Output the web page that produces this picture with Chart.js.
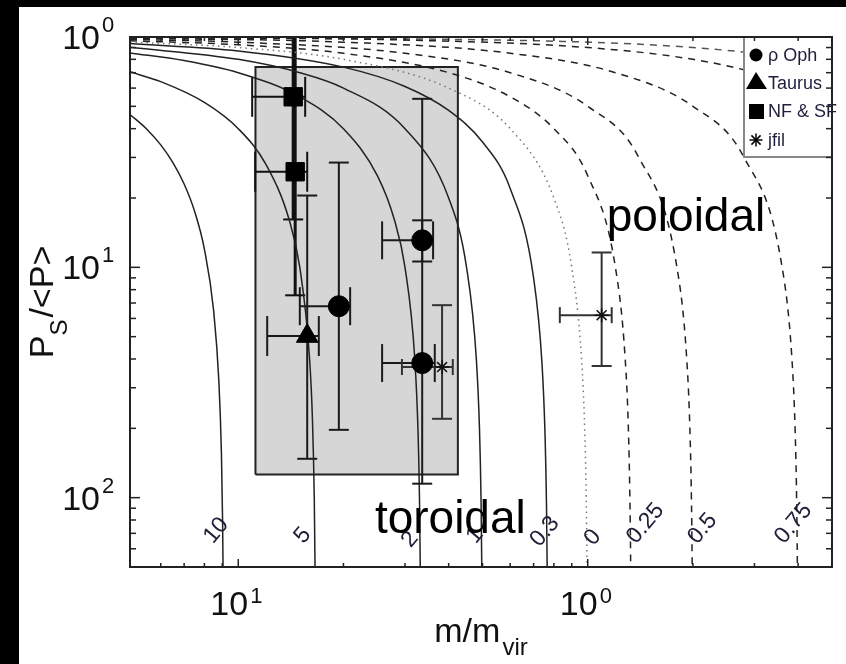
<!DOCTYPE html>
<html>
<head>
<meta charset="utf-8">
<script src="https://cdn.jsdelivr.net/npm/chart.js@4.4.1/dist/chart.umd.min.js"></script>
<style>
  html, body { margin:0; padding:0; background:#000; }
  #wrap { position:absolute; left:19px; top:7px; width:827px; height:657px; background:#fff; }
  canvas { display:block; }
</style>
</head>
<body>
<div id="wrap"><canvas id="c" width="827" height="657"></canvas></div>
<script>
const FONT = '"Liberation Sans", Arial, sans-serif'

// model curves, [m/mvir, Ps/<P>]
const tor10 = [[0.049,0.461],[0.055,0.395],[0.06,0.34],[0.065,0.285],[0.07,0.23],[0.075,0.175],[0.08,0.12],[0.085,0.065],[0.088,0.032],[0.0895,0.0155],[0.0902,0.0078],[0.0905,0.0045]]
const tor5 = [[0.049,0.706],[0.06,0.64],[0.08,0.52],[0.1,0.40],[0.12,0.28],[0.14,0.16],[0.15,0.10],[0.16,0.04],[0.163,0.022],[0.165,0.01],[0.1658,0.0052],[0.1662,0.0028]]
const tor2 = [[0.049,0.853],[0.07,0.79],[0.1,0.70],[0.15,0.55],[0.2,0.40],[0.25,0.25],[0.28,0.16],[0.3,0.10],[0.32,0.04],[0.327,0.019],[0.33,0.01],[0.3317,0.005],[0.3325,0.0025]]
const tor1 = [[0.049,0.902],[0.1,0.80],[0.15,0.70],[0.2,0.60],[0.3,0.40],[0.4,0.20],[0.45,0.10],[0.48,0.04],[0.49,0.02],[0.495,0.01],[0.4975,0.005],[0.499,0.002]]
const tor03 = [[0.049,0.936],[0.1,0.87],[0.2,0.74],[0.3,0.61],[0.4,0.48],[0.5,0.35],[0.6,0.22],[0.7,0.09],[0.74,0.038],[0.755,0.0185],[0.762,0.0094],[0.7655,0.0049],[0.768,0.0016]]
const neutral0 = [[0.049,0.951],[0.1,0.90],[0.2,0.80],[0.4,0.60],[0.6,0.40],[0.8,0.20],[0.9,0.10],[0.96,0.04],[0.98,0.02],[0.99,0.01],[0.995,0.005],[0.998,0.002]]
const pol025 = [[0.049,0.963],[0.1,0.925],[0.2,0.85],[0.4,0.70],[0.6,0.55],[0.8,0.40],[1.0,0.25],[1.2,0.10],[1.28,0.04],[1.307,0.02],[1.32,0.01],[1.327,0.005],[1.331,0.002]]
const pol05 = [[0.049,0.976],[0.1,0.95],[0.3,0.85],[0.6,0.70],[1.0,0.50],[1.4,0.30],[1.8,0.10],[1.92,0.04],[1.96,0.02],[1.98,0.01],[1.99,0.005],[1.996,0.002]]
const pol075 = [[0.049,0.988],[0.2,0.95],[0.6,0.85],[1.2,0.70],[2.0,0.50],[2.8,0.30],[3.6,0.10],[3.84,0.04],[3.92,0.02],[3.96,0.01],[3.98,0.005],[3.992,0.002]]
const pol09 = [[0.049,0.995],[0.3,0.97],[1,0.90],[2,0.80],[3,0.70],[4,0.60],[5,0.50]]
const pol095 = [[0.049,0.9975],[1,0.95],[2,0.90],[3,0.85],[4,0.80],[5,0.75]]

const curveLabelText = ['10','5','2','1','0.3','0','0.25','0.5','0.75']
const curveLabelX = [0.0865,0.153,0.31,0.4755,0.754,1.033,1.464,2.131,3.878]
const curveLabelY = [0.0072,0.00685,0.00658,0.00685,0.00713,0.00671,0.00772,0.00734,0.00772]

// observed region
const boxX = [0.112,0.112,0.425,0.425,0.112]
const boxY = [0.0126,0.74,0.74,0.0126,0.0126]

// data points with error bars
const ophX = [0.336,0.336,0.194]
const ophY = [0.131,0.0384,0.0678]
const ophXLo = [0.258,0.258,0.150]
const ophXHi = [0.361,0.365,0.209]
const ophYLo = [0.106,0.0115,0.0197]
const ophYHi = [0.160,0.539,0.285]

const tauX = [0.1575]
const tauY = [0.0503]
const tauXLo = [0.121]
const tauXHi = [0.170]
const tauYLo = [0.01475]
const tauYHi = [0.205]

const nfsfX = [0.1436,0.1455]
const nfsfY = [0.550,0.260]
const nfsfXLo = [0.1096,0.1118]
const nfsfXHi = [0.1554,0.1575]
const nfsfYLo = [0.1614,0.0756]
const nfsfYHi = [2,2]

const jfilX = [0.383,1.096]
const jfilY = [0.0369,0.062]
const jfilXLo = [0.294,0.832]
const jfilXHi = [0.411,1.171]
const jfilYLo = [0.022,0.0373]
const jfilYHi = [0.0685,0.116]

const legendText = ['\u03c1 Oph','Taurus','NF & SF','jfil']
const regionText = ['toroidal','poloidal']
const regionX = [0.246,1.133]
const regionY = [0.00699,0.1432]

const xMajorTicks = [0.1,1]
const xTickExp = ['1','0']
const xMinorTicks = [0.06,0.07,0.08,0.09,0.2,0.3,0.4,0.5,0.6,0.7,0.8,0.9,2,3,4]
const yMajorTicks = [1,0.1,0.01]
const yTickExp = ['0','1','2']
const yMinorTicks = [0.006,0.007,0.008,0.009,0.02,0.03,0.04,0.05,0.06,0.07,0.08,0.09,0.2,0.3,0.4,0.5,0.6,0.7,0.8,0.9]

const pts = arr => arr.map(p => ({ x: p[0], y: p[1] }))
const zip = (xs, ys) => xs.map((v, i) => ({ x: v, y: ys[i] }))

const errGroups = [
  { x: ophX, y: ophY, xLo: ophXLo, xHi: ophXHi, yLo: ophYLo, yHi: ophYHi, color:'#1a1a1a', vw:2, cap:19 },
  { x: tauX, y: tauY, xLo: tauXLo, xHi: tauXHi, yLo: tauYLo, yHi: tauYHi, color:'#1a1a1a', vw:2, cap:20 },
  { x: nfsfX, y: nfsfY, xLo: nfsfXLo, xHi: nfsfXHi, yLo: nfsfYLo, yHi: nfsfYHi, color:'#111', vw:3, cap:20 },
  { x: jfilX, y: jfilY, xLo: jfilXLo, xHi: jfilXHi, yLo: jfilYLo, yHi: jfilYHi, color:'#333', vw:2, cap:8 },
]

function curve(data, color, dash, width) {
  return { data: pts(data), showLine:true, pointRadius:0, borderColor:color, borderWidth:width || 1.5,
    borderDash:dash, cubicInterpolationMode:'monotone', order:5 }
}

function seg(ctx, x0, y0, x1, y1) {
  ctx.beginPath(); ctx.moveTo(x0, y0); ctx.lineTo(x1, y1); ctx.stroke()
}

function drawErrorBars(chart) {
  const { ctx, chartArea: a, scales: { x, y } } = chart
  ctx.save()
  ctx.beginPath(); ctx.rect(a.left, a.top, a.right - a.left, a.bottom - a.top); ctx.clip()
  errGroups.forEach(g => {
    ctx.strokeStyle = g.color
    g.x.forEach((xv, i) => {
      const px = x.getPixelForValue(xv), py = y.getPixelForValue(g.y[i])
      const xl = x.getPixelForValue(g.xLo[i]), xh = x.getPixelForValue(g.xHi[i])
      const yl = y.getPixelForValue(g.yLo[i]), yh = y.getPixelForValue(g.yHi[i])
      ctx.lineWidth = g.vw
      seg(ctx, px, yl, px, yh)
      ctx.lineWidth = 2
      seg(ctx, px - 10, yl, px + 10, yl)
      seg(ctx, px - 10, yh, px + 10, yh)
      seg(ctx, xl, py, xh, py)
      seg(ctx, xl, py - g.cap, xl, py + g.cap)
      seg(ctx, xh, py - g.cap, xh, py + g.cap)
    })
  })
  ctx.restore()
}

function legendMarker(ctx, i, cx, cy) {
  ctx.fillStyle = '#000'; ctx.strokeStyle = '#000'
  ctx.beginPath()
  if (i === 0) { ctx.arc(cx, cy, 6.5, 0, Math.PI * 2); ctx.fill() }
  if (i === 1) { ctx.moveTo(cx, cy - 11); ctx.lineTo(cx + 11, cy + 6); ctx.lineTo(cx - 10, cy + 6); ctx.closePath(); ctx.fill() }
  if (i === 2) { ctx.rect(cx - 7, cy - 7, 15, 15); ctx.fill() }
  if (i === 3) {
    ctx.lineWidth = 1.5
    for (let k = 0; k < 4; k++) {
      const t = k * Math.PI / 4
      seg(ctx, cx - 6.5 * Math.cos(t), cy - 6.5 * Math.sin(t), cx + 6.5 * Math.cos(t), cy + 6.5 * Math.sin(t))
    }
  }
}

const decor = {
  id: 'decor',
  afterDatasetDraw(chart, args) {
    if (args.index === 0) drawErrorBars(chart)
  },
  afterDatasetsDraw(chart) {
    const { ctx, chartArea: a, scales: { x, y } } = chart
    ctx.save()

    // curve labels
    ctx.fillStyle = '#20203a'
    ctx.font = '23px ' + FONT
    ctx.textAlign = 'center'; ctx.textBaseline = 'middle'
    curveLabelText.forEach((t, i) => {
      ctx.save()
      ctx.translate(x.getPixelForValue(curveLabelX[i]), y.getPixelForValue(curveLabelY[i]))
      ctx.rotate(-50 * Math.PI / 180)
      ctx.fillText(t, 0, 0)
      ctx.restore()
    })

    // region names
    ctx.fillStyle = '#000'
    ctx.font = '46px ' + FONT
    ctx.textAlign = 'left'; ctx.textBaseline = 'alphabetic'
    regionText.forEach((t, i) => ctx.fillText(t, x.getPixelForValue(regionX[i]), y.getPixelForValue(regionY[i])))

    // legend
    const lx = a.right - 88, ly = a.top
    ctx.fillStyle = '#fff'
    ctx.fillRect(lx, ly, 88, 120)
    ctx.strokeStyle = '#888'; ctx.lineWidth = 2
    ctx.strokeRect(lx, ly, 88, 120)
    const rows = [18, 46, 74, 103]
    legendText.forEach((t, i) => {
      legendMarker(ctx, i, a.right - 76, ly + rows[i])
      ctx.fillStyle = '#1e1e3c'
      ctx.font = '18px ' + FONT
      ctx.textAlign = 'left'; ctx.textBaseline = 'alphabetic'
      ctx.fillText(t, a.right - 64, ly + rows[i] + 6)
    })

    // inward ticks
    ctx.strokeStyle = '#222'; ctx.lineWidth = 1.5
    xMinorTicks.forEach(v => { const p = x.getPixelForValue(v); seg(ctx, p, a.bottom, p, a.bottom - 4); seg(ctx, p, a.top, p, a.top + 4) })
    xMajorTicks.forEach(v => { const p = x.getPixelForValue(v); seg(ctx, p, a.bottom, p, a.bottom - 8); seg(ctx, p, a.top, p, a.top + 8) })
    yMinorTicks.forEach(v => { const p = y.getPixelForValue(v); seg(ctx, a.left, p, a.left + 6, p); seg(ctx, a.right, p, a.right - 6, p) })
    yMajorTicks.forEach(v => { const p = y.getPixelForValue(v); seg(ctx, a.left, p, a.left + 10, p); seg(ctx, a.right, p, a.right - 10, p) })

    // frame
    ctx.lineWidth = 2
    ctx.strokeRect(a.left, a.top, a.right - a.left, a.bottom - a.top)

    // tick labels
    ctx.fillStyle = '#111'
    yMajorTicks.forEach((v, i) => {
      const p = y.getPixelForValue(v)
      ctx.font = '34px ' + FONT; ctx.textAlign = 'right'
      ctx.fillText('10', a.left - 30, p + 12)
      ctx.font = '22px ' + FONT; ctx.textAlign = 'left'
      ctx.fillText(yTickExp[i], a.left - 28, p - 5)
    })
    xMajorTicks.forEach((v, i) => {
      const p = x.getPixelForValue(v)
      ctx.font = '34px ' + FONT; ctx.textAlign = 'left'
      ctx.fillText('10', p - 28, a.bottom + 48)
      ctx.font = '22px ' + FONT
      ctx.fillText(xTickExp[i], p + 12, a.bottom + 36)
    })

    // axis titles
    const cx = (a.left + a.right) / 2
    ctx.font = '34px ' + FONT
    const w1 = ctx.measureText('m/m').width
    ctx.font = '24px ' + FONT
    const w2 = ctx.measureText('vir').width
    const x0 = cx - (w1 + w2 + 2) / 2
    ctx.font = '34px ' + FONT; ctx.textAlign = 'left'
    ctx.fillText('m/m', x0, a.bottom + 75)
    ctx.font = '24px ' + FONT
    ctx.fillText('vir', x0 + w1 + 2, a.bottom + 88)

    const cy = (a.top + a.bottom) / 2
    ctx.font = '34px ' + FONT
    const p1 = ctx.measureText('P').width, p3 = ctx.measureText('/<P>').width
    ctx.font = '24px ' + FONT
    const p2 = ctx.measureText('S').width
    ctx.save()
    ctx.translate(a.left - 77, cy)
    ctx.rotate(-Math.PI / 2)
    let u = -(p1 + p2 + p3 + 2) / 2
    ctx.font = '34px ' + FONT
    ctx.fillText('P', u, 0)
    ctx.font = '24px ' + FONT
    ctx.fillText('S', u + p1, 14)
    ctx.font = '34px ' + FONT
    ctx.fillText('/<P>', u + p1 + p2 + 2, 0)
    ctx.restore()

    ctx.restore()
  }
}

new Chart(document.getElementById('c'), {
  type: 'scatter',
  data: {
    datasets: [
      { data: zip(boxX, boxY), showLine:true, fill:'shape', backgroundColor:'#d6d6d6', borderColor:'#222',
        borderWidth:2, pointRadius:0, tension:0, order:10 },
      curve(tor10, '#222', []),
      curve(tor5, '#222', []),
      curve(tor2, '#222', []),
      curve(tor1, '#222', []),
      curve(tor03, '#222', []),
      curve(neutral0, '#777', [1.5, 4]),
      curve(pol025, '#222', [7, 6]),
      curve(pol05, '#222', [7, 6]),
      curve(pol075, '#222', [7, 6]),
      curve(pol09, '#222', [7, 6]),
      curve(pol095, '#555', [7, 6]),
      { data: zip(ophX, ophY), pointStyle:'circle', pointRadius:10.5, backgroundColor:'#000', borderColor:'#000', order:0 },
      { data: zip(tauX, tauY), pointStyle:'triangle', pointRadius:12.5, backgroundColor:'#000', borderColor:'#000', order:0 },
      { data: zip(nfsfX, nfsfY), pointStyle:'rect', pointRadius:13, backgroundColor:'#000', borderColor:'#000', order:0 },
      { data: zip(jfilX, jfilY), pointStyle:'star', pointRadius:7, backgroundColor:'#000', borderColor:'#111', borderWidth:1.5, order:0 },
    ]
  },
  options: {
    responsive: false,
    animation: false,
    events: [],
    layout: { padding: { left:111, top:30, right:13, bottom:97 } },
    plugins: { legend: { display:false }, tooltip: { enabled:false } },
    scales: {
      x: { type:'logarithmic', display:false, min:0.049, max:5, bounds:'data' },
      y: { type:'logarithmic', display:false, min:0.005, max:1, bounds:'data' },
    }
  },
  plugins: [decor]
})
</script>
</body>
</html>
